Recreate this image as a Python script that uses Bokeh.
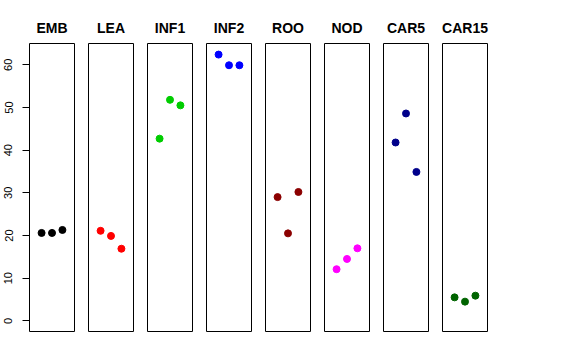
from bokeh.plotting import figure
from bokeh.layouts import row
from bokeh.models import Range1d, FixedTicker, ColumnDataSource
from bokeh.embed import file_html
from bokeh.resources import INLINE

groups = ["EMB", "LEA", "INF1", "INF2", "ROO", "NOD", "CAR5", "CAR15"]
rep_x = [1, 2, 3]
rep1 = [20.6, 21.1, 42.7, 62.4, 29.0, 12.1, 41.8, 5.5]
rep2 = [20.6, 19.9, 51.8, 59.9, 20.5, 14.5, 48.6, 4.5]
rep3 = [21.3, 16.9, 50.5, 59.9, 30.2, 17.0, 34.9, 5.9]
colors = ["#000000", "#FF0000", "#00CD00", "#0000FF", "#8B0000", "#FF00FF", "#00008B", "#006400"]
y_ticks = [0, 10, 20, 30, 40, 50, 60]

FONT = "Liberation Sans"
figs = []
for i, g in enumerate(groups):
    first = i == 0
    p = figure(
        width=(29 + 45 + 7) if first else 59,
        height=360,
        frame_width=45,
        frame_height=288,
        x_range=Range1d(-0.16, 4.16),
        y_range=Range1d(-2.5, 65),
        x_axis_location=None,
        y_axis_location="left" if first else None,
        toolbar_location=None,
        output_backend="svg",
        min_border_left=29 if first else 7,
        min_border_right=7,
        min_border_top=43,
        min_border_bottom=29,
        title=g,
    )
    p.xgrid.visible = False
    p.ygrid.visible = False
    p.outline_line_color = "black"
    p.outline_line_width = 1
    p.background_fill_color = "white"
    p.border_fill_color = "white"
    p.title.align = "center"
    p.title.text_font = FONT
    p.title.text_font_style = "bold"
    p.title.text_font_size = "14px"
    p.title.text_color = "black"
    p.title.standoff = 16
    if first:
        ax = p.yaxis[0]
        ax.ticker = FixedTicker(ticks=y_ticks)
        ax.major_tick_out = 7
        ax.major_tick_in = 0
        ax.minor_tick_out = 0
        ax.minor_tick_in = 0
        ax.axis_line_color = None
        ax.major_tick_line_color = "black"
        ax.major_label_orientation = "vertical"
        ax.major_label_text_font = FONT
        ax.major_label_text_font_size = "11px"
        ax.major_label_text_color = "black"
        ax.major_label_standoff = 10
    src = ColumnDataSource(dict(x=rep_x, y=[rep1[i], rep2[i], rep3[i]]))
    p.scatter("x", "y", source=src, size=7, color=colors[i], marker="circle")
    figs.append(p)

layout = row(*figs, spacing=0)
open("out.html", "w").write(file_html(layout, INLINE))
